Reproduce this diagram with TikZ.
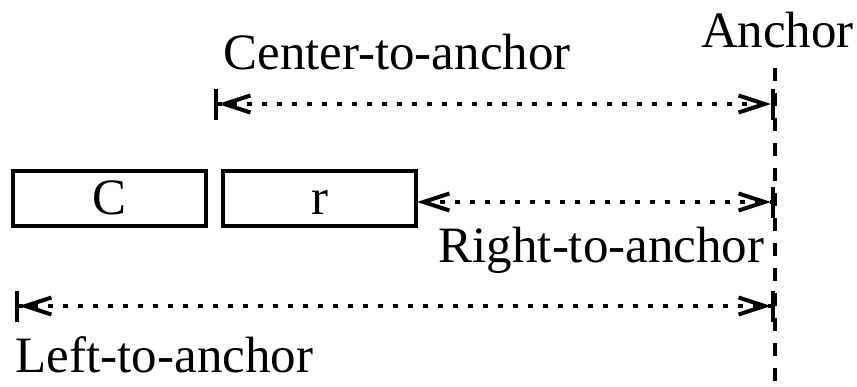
\documentclass[tikz,border=0pt]{standalone}
\usepackage{fontspec}
\setmainfont{Liberation Serif}
\usetikzlibrary{arrows.meta}
\begin{document}
\begin{tikzpicture}[x=1pt,y=-1pt,
  lbl/.style={inner sep=0pt,anchor=base,font=\fontsize{51}{56}\selectfont},
  blk/.style={draw,line width=3.6pt,minimum width=193pt,minimum height=55pt,inner sep=0pt,
    text height=38pt,text depth=7pt,font=\fontsize{51}{56}\selectfont},
  dim/.style={line width=3.4pt,dash pattern=on 5pt off 10pt,
    {Bar[width=31pt,line width=4pt]Straight Barb[length=26pt,width=17pt,line width=4pt]}-{Straight Barb[length=26pt,width=17pt,line width=4pt]Bar[width=31pt,line width=4pt]}},
  dimr/.style={line width=3.4pt,dash pattern=on 5pt off 10pt,
    {Straight Barb[length=26pt,width=17pt,line width=4pt]}-{Straight Barb[length=26pt,width=17pt,line width=4pt]Bar[width=31pt,line width=4pt]}},
  anchorline/.style={line width=3.6pt,dash pattern=on 13pt off 12pt}]
\useasboundingbox (0,0) rectangle (857,386);
% anchor line
\coordinate (atop) at (775,68);
\coordinate (abot) at (775,390);
\draw[anchorline] (atop) -- (abot);
\node[lbl] (anchortxt) at (777.5,47) {Anchor};
% boxes
\node[blk] (C) at (109.5,198.5) {C};
\node[blk] (r) at (319.5,198.5) {r};
% dimension endpoints
\coordinate (cl) at (214,104);
\coordinate (cr) at (775,104);
\coordinate (rl) at (417,202);
\coordinate (rr) at (775,202);
\coordinate (ll) at (15,306);
\coordinate (lr) at (775,306);
\draw[dim] (cl) -- (cr);
\draw[dimr] (rl) -- (rr);
\draw[dim] (ll) -- (lr);
% labels
\node[lbl] (ctxt) at (397,69) {Center-to-anchor};
\node[lbl] (rtxt) at (601.5,262) {Right-to-anchor};
\node[lbl] (ltxt) at (164.5,372) {Left-to-anchor};
\end{tikzpicture}
\end{document}
